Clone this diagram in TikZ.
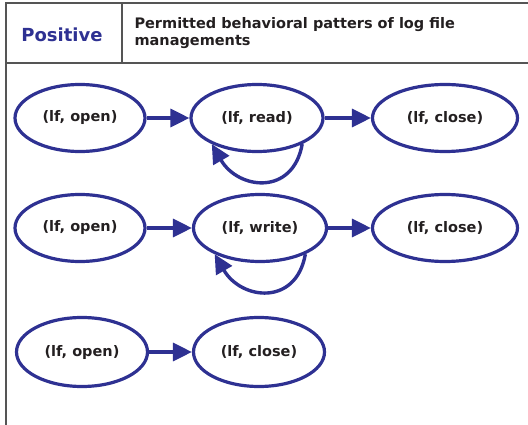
\documentclass[tikz,border=0pt]{standalone}
\usepackage{fontspec}
\setmainfont{DejaVu Sans}
\usetikzlibrary{arrows.meta,shapes.geometric}

\definecolor{stateblue}{HTML}{2E3192}
\definecolor{inkgray}{HTML}{231F20}
\definecolor{rulegray}{HTML}{555555}

\begin{document}
\begin{tikzpicture}[
    x=1pt, y=1pt,
    state/.style={ellipse, draw=stateblue, line width=3.2pt, minimum height=67pt, inner sep=0pt,
                  font=\fontsize{14.5}{17}\selectfont\bfseries, text=inkgray},
    flow/.style={-{Triangle[length=19pt, width=18pt]}, draw=stateblue, line width=3.4pt},
    rule/.style={draw=rulegray, line width=1.5pt}
]
\useasboundingbox (0,0) rectangle (528,-425);

% Table frame
\coordinate (tl) at (6,-3);
\coordinate (tr) at (528,-3);
\coordinate (hl) at (6,-63);
\coordinate (hr) at (528,-63);
\coordinate (bl) at (6,-425);
\coordinate (dtop) at (122,-3);
\coordinate (dbot) at (122,-63);
\draw[rule] (tr) -- (tl) -- (bl);
\draw[rule] (hl) -- (hr);
\draw[rule] (dtop) -- (dbot);

% Header
\node[font=\fontsize{18}{20}\selectfont\bfseries, text=stateblue] (kind) at (62,-35) {Positive};
\node[anchor=west, align=left, font=\fontsize{14.5}{17}\selectfont\bfseries, text=inkgray] (title) at (131,-33)
    {Permitted behavioral patters of log file\\managements};

% Read pattern
\node[state, minimum width=130pt] (open1) at (80,-118) {(lf, open)};
\node[state, minimum width=132pt] (read) at (257,-118) {(lf, read)};
\node[state, minimum width=145pt] (close1) at (445,-118) {(lf, close)};
\draw[flow] (open1) -- (read);
\draw[flow] (read) -- (close1);
\draw[flow] (read.-30) to[out=-100, in=-60, looseness=1.5] (read.-150);

% Write pattern
\node[state, minimum width=130pt] (open2) at (80,-228) {(lf, open)};
\node[state, minimum width=133pt] (write) at (260,-228) {(lf, write)};
\node[state, minimum width=145pt] (close2) at (445,-228) {(lf, close)};
\draw[flow] (open2) -- (write);
\draw[flow] (write) -- (close2);
\draw[flow] (write.-30) to[out=-100, in=-60, looseness=1.5] (write.-150);

% Open then close
\node[state, minimum width=131pt, minimum height=69pt] (open3) at (82,-352) {(lf, open)};
\node[state, minimum width=131pt, minimum height=69pt] (close3) at (259,-352) {(lf, close)};
\draw[flow] (open3) -- (close3);

\end{tikzpicture}
\end{document}
